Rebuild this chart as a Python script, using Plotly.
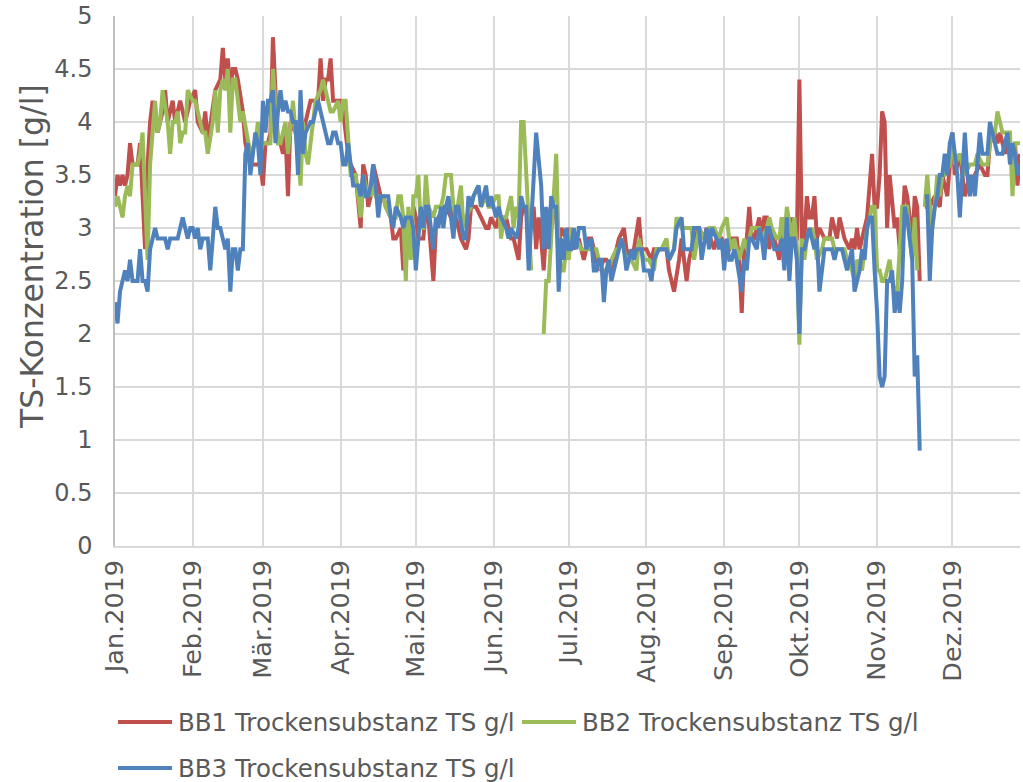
import pandas as pd
import plotly.graph_objects as go

# ---- data: (day of year offset from 2019-01-01, value in g/l); None = gap ----
bb1 = [(0,3.3),(1,3.5),(2,3.4),(3,3.5),(4,3.4),(5,3.5),(6,3.8),(7,3.6),(8,3.6),(9,3.6),(10,3.8),(11,3.2),(12,2.8),(13,3.6),(14,4.0),(15,4.2),(17,3.9),(19,4.1),(20,4.3),(21,4.0),(23,4.2),(24,4.0),(25,4.1),(26,4.2),(28,4.0),(30,4.2),(32,4.3),(33,4.0),(35,3.9),(36,4.1),(37,3.8),(39,4.1),(40,4.3),(42,4.4),(43,4.7),(44,4.4),(45,4.6),(46,4.3),(47,4.5),(48,4.5),(49,4.4),(51,4.1),(52,3.8),(54,3.6),(56,3.6),(57,3.6),(58,3.6),(59,3.4),
       (60,3.8),(61,3.8),(62,3.9),(63,4.8),(64,4.2),(65,3.8),(66,3.8),(67,3.7),(68,3.9),(69,3.3),(70,4.0),(72,3.9),(73,3.9),(74,3.8),(76,4.0),(77,4.1),(78,4.2),(80,4.2),(81,4.2),(82,4.6),(83,4.2),(84,4.4),(85,4.4),(86,4.6),(87,4.2),(88,4.2),(90,4.2),(91,4.1),(92,3.9),(93,3.7),(94,3.6),(96,3.5),(98,3.0),(99,3.6),(100,3.5),(101,3.2),(102,3.3),(103,3.6),(104,3.5),(106,3.3),(107,3.3),(108,3.2),(110,3.1),(111,2.9),(112,2.9),(114,3.0),(115,2.6),(116,3.1),(118,3.0),(119,3.2),
       (120,3.1),(121,2.9),(123,2.9),(124,3.2),(125,3.1),(127,2.5),(128,3.0),(129,3.1),(131,3.2),(132,3.2),(134,3.1),(135,3.2),(136,3.1),(138,2.9),(140,2.8),(141,2.9),(142,3.2),(144,3.2),(146,3.1),(148,3.0),(149,3.0),(150,3.1),(152,3.0),(153,3.1),(154,3.1),(156,3.1),(158,2.9),(159,2.9),(160,2.8),(161,2.7),(162,3.1),(163,3.2),(164,3.2),(165,2.9),(166,3.1),(167,3.2),(168,2.8),(169,3.1),(170,2.9),(171,2.6),(172,3.0),(173,3.1),(174,3.2),(176,3.1),(177,2.8),(178,3.0),(180,2.9),
       (181,3.0),(183,2.8),(185,2.9),(187,2.7),(189,2.9),(190,2.9),(192,2.7),(193,2.6),(195,2.7),(196,2.7),(198,2.6),(200,2.8),(201,2.9),(203,3.0),(204,2.8),(206,2.7),(207,2.8),(209,3.1),(210,2.8),(211,2.8),(212,2.8),(214,2.7),(215,2.8),(216,2.8),(218,2.8),(220,2.8),(221,2.6),(222,2.5),(223,2.4),(225,2.7),(226,2.9),(227,2.7),(228,2.5),(229,2.7),(231,2.9),(233,3.0),(235,2.9),(236,3.0),(239,2.8),(240,2.9),(242,2.9),
       (244,2.8),(245,2.8),(246,2.9),(248,2.9),(249,2.7),(250,2.2),(251,2.8),(252,2.9),(253,3.2),(254,2.9),(255,2.9),(256,3.0),(257,3.1),(258,2.9),(259,3.1),(260,3.1),(261,2.8),(262,3.0),(264,2.8),(265,2.7),(266,3.1),(267,2.8),(269,2.9),(270,3.1),(271,2.9),(272,2.9),(273,4.4),(274,2.9),(275,2.9),(276,3.3),(277,3.1),(278,3.1),(279,3.3),(280,2.9),(281,3.0),(283,2.9),(284,2.9),(285,2.9),(286,3.1),(288,2.9),(289,3.1),(290,3.0),(291,2.9),(293,2.8),(294,2.9),(295,2.8),(296,3.0),(297,2.8),(298,2.9),(300,3.1),(301,3.4),(302,3.7),(303,3.2),
       (304,3.2),(305,3.5),(306,4.1),(307,4.0),(308,3.0),(309,3.5),(310,3.2),(311,3.0),(312,3.1),(313,2.8),(314,3.0),(315,3.4),(316,3.3),(317,3.1),(318,2.8),(319,3.3),(320,3.2),(321,2.5),(322,None),(323,3.2),(325,3.2),(327,3.3),(329,3.2),(330,3.5),(332,3.3),(333,3.6),(334,3.9),(335,3.5),(337,3.7),(338,3.5),(339,3.3),(341,3.5),(342,3.4),(343,3.5),(345,3.6),(347,3.5),(348,3.5),(349,3.8),(351,3.9),(352,3.8),(353,3.9),(355,3.7),(356,3.8),(357,3.7),(358,3.6),(359,3.8),(360,3.4),(361,3.7)]

bb2 = [(0,3.2),(1,3.3),(2,3.2),(3,3.1),(4,3.3),(5,3.4),(6,3.3),(7,3.6),(9,3.6),(10,3.7),(11,3.9),(12,3.2),(13,2.7),(14,3.6),(15,3.9),(16,4.2),(17,3.9),(18,4.0),(19,4.3),(21,4.0),(22,3.7),(23,4.0),(24,4.0),(25,4.1),(26,3.8),(27,3.9),(28,3.9),(29,4.3),(31,4.2),(32,4.2),(33,4.1),(35,3.9),(36,3.9),(37,3.7),(39,4.0),(40,4.3),(41,3.9),(42,4.3),(43,4.4),(44,4.3),(45,4.5),(46,3.9),(47,4.4),(48,4.4),(49,4.2),(50,4.0),(51,4.1),(53,3.8),(54,3.7),(56,3.8),(57,4.0),(58,3.7),(59,3.8),
       (60,3.8),(61,3.8),(62,3.8),(63,4.5),(64,4.2),(65,3.8),(66,3.8),(68,4.0),(69,3.7),(70,4.0),(71,4.2),(72,3.9),(73,3.7),(74,3.4),(75,4.0),(76,3.7),(77,3.6),(78,3.8),(79,4.0),(80,4.2),(82,4.3),(83,4.4),(84,4.3),(86,4.1),(87,4.1),(89,4.2),(90,4.0),(91,4.2),(92,4.2),(93,3.9),(94,3.5),(96,3.5),(97,3.3),(98,3.1),(99,3.5),(100,3.4),(102,3.3),(103,3.4),(104,3.3),(107,3.3),(108,3.2),(110,3.1),(112,3.1),(113,3.3),(114,3.3),(115,3.1),(116,2.5),(117,3.2),(118,2.7),(119,3.3),
       (120,3.3),(121,3.5),(122,3.0),(123,3.0),(124,3.5),(125,3.2),(127,3.1),(128,3.2),(130,3.2),(131,3.3),(132,3.5),(134,3.5),(135,3.2),(136,3.1),(138,3.4),(139,3.0),(140,3.1),(142,3.2),(143,3.3),(145,3.4),(146,3.2),(148,3.3),(149,3.2),(150,3.2),(152,3.3),(153,3.3),(154,2.9),(155,3.1),(156,3.1),(158,3.3),(159,3.0),(160,3.2),(161,3.1),(162,4.0),(163,4.0),(165,3.1),(166,2.6),(168,None),(171,2.0),(172,2.5),(173,2.5),(174,2.9),(175,3.3),(176,3.7),(177,2.8),(178,2.6),(179,2.6),(180,2.8),
       (181,2.7),(182,3.0),(184,2.9),(186,2.8),(188,2.8),(190,2.8),(192,2.8),(194,2.6),(196,2.6),(197,2.6),(198,2.7),(200,2.8),(201,2.8),(202,2.9),(204,2.7),(205,2.7),(206,2.7),(208,2.6),(209,2.9),(211,2.7),(213,2.7),(215,2.6),(216,2.8),(218,2.8),(220,2.9),(221,2.7),(223,2.8),(224,3.1),(226,3.0),(228,3.0),(230,3.0),(231,2.7),(233,3.0),(235,2.9),(237,3.0),(239,3.0),(241,2.9),(242,3.0),
       (244,3.1),(245,2.9),(246,2.8),(247,2.9),(249,2.7),(250,2.8),(251,2.9),(252,2.8),(253,2.9),(254,3.0),(256,3.0),(257,3.0),(258,2.9),(260,3.0),(261,3.1),(262,3.0),(264,2.9),(265,2.9),(266,3.1),(267,2.9),(268,3.2),(270,2.9),(271,3.1),(272,2.8),(273,1.9),(274,2.9),(275,2.7),(276,2.9),(278,3.0),(279,2.9),(280,2.7),(282,2.8),(283,2.9),(284,2.9),(286,2.9),(287,2.8),(288,2.8),(290,2.8),(291,2.8),(292,2.7),(294,2.6),(295,2.5),(296,2.7),(298,2.6),(299,2.8),(300,3.0),(302,3.2),(303,3.2),
       (304,2.6),(305,2.6),(306,2.5),(307,2.5),(308,2.6),(309,2.7),(310,2.5),(311,2.4),(312,2.4),(313,2.9),(314,3.2),(315,3.2),(316,3.2),(317,2.9),(318,2.7),(319,3.1),(320,2.6),(322,None),(323,3.2),(324,3.5),(325,3.2),(326,3.0),(327,3.2),(328,3.5),(329,3.3),(330,3.5),(331,3.5),(333,3.6),(334,3.9),(335,3.6),(337,3.7),(338,3.6),(339,3.5),(341,3.6),(342,3.6),(343,3.6),(344,3.7),(346,3.6),(348,3.6),(349,3.8),(351,3.9),(352,4.1),(354,3.9),(355,3.9),(357,3.9),(358,3.3),(359,3.8),(360,3.8),(361,3.8)]

bb3 = [(0,2.3),(1,2.1),(2,2.4),(3,2.5),(4,2.6),(5,2.5),(6,2.7),(7,2.5),(8,2.5),(9,2.5),(10,2.8),(11,2.5),(12,2.5),(13,2.4),(14,2.8),(15,2.9),(16,3.0),(17,2.9),(18,2.9),(19,2.9),(20,2.9),(21,2.8),(22,2.9),(23,2.9),(24,2.9),(25,2.9),(26,3.0),(27,3.1),(28,3.0),(29,2.9),(30,3.0),(31,3.0),(32,2.9),(33,3.0),(34,2.8),(35,2.9),(36,2.9),(37,2.9),(38,2.6),(40,3.2),(41,3.0),(42,3.0),(43,2.9),(44,2.8),(45,2.9),(46,2.4),(47,2.8),(48,2.8),(49,2.6),(50,2.8),(51,2.8),(52,3.7),(53,3.8),(54,3.5),(55,3.7),(56,3.9),(57,3.8),(58,3.5),(59,4.2),
       (60,3.9),(61,4.2),(62,4.2),(63,4.3),(64,3.8),(65,4.1),(66,4.3),(67,4.1),(68,4.2),(69,4.1),(70,4.1),(71,4.0),(72,4.0),(73,3.5),(74,4.3),(75,3.7),(76,3.9),(78,4.0),(79,4.0),(80,4.1),(81,4.2),(82,4.1),(84,3.9),(85,3.8),(86,3.8),(87,3.9),(88,3.9),(89,3.8),(90,3.8),(91,3.6),(92,3.6),(93,3.8),(94,3.6),(95,3.4),(96,3.4),(97,3.4),(98,3.3),(99,3.5),(100,3.3),(101,3.3),(102,3.4),(103,3.6),(104,3.4),(105,3.1),(106,3.3),(108,3.3),(109,3.3),(110,3.1),(111,3.0),(112,3.2),(114,3.1),(115,3.0),(116,3.1),(118,3.1),(119,3.0),
       (120,2.6),(122,3.2),(123,3.0),(124,3.2),(125,3.2),(127,2.8),(128,3.1),(129,3.0),(130,3.2),(131,3.0),(132,3.2),(133,3.3),(135,2.9),(136,3.2),(137,3.2),(139,2.9),(140,2.9),(141,3.3),(142,3.2),(143,3.3),(145,3.4),(146,3.2),(148,3.4),(149,3.2),(150,3.3),(152,3.1),(153,3.2),(154,3.1),(156,3.0),(157,2.9),(158,3.0),(160,2.9),(161,3.0),(162,3.3),(163,3.2),(164,3.2),(165,2.6),(166,3.0),(167,3.4),(168,3.9),(170,3.4),(171,2.8),(172,3.2),(173,2.8),(174,3.3),(175,3.2),(176,3.2),(177,2.4),(178,2.9),(179,2.7),(180,3.0),
       (181,2.8),(182,2.8),(183,3.0),(184,2.8),(185,3.0),(186,3.0),(187,3.0),(188,2.8),(190,2.9),(191,2.6),(192,2.6),(193,2.7),(194,2.7),(195,2.3),(196,2.6),(197,2.7),(198,2.5),(199,2.6),(200,2.7),(202,2.9),(203,2.8),(204,2.6),(206,2.8),(207,2.7),(208,2.8),(210,2.8),(211,2.6),(213,2.6),(214,2.5),(215,2.7),(217,2.8),(219,2.8),(220,2.8),(221,2.7),(223,2.8),(224,3.0),(226,3.1),(227,2.8),(229,2.8),(230,2.8),(231,3.0),(233,3.0),(234,2.7),(236,3.0),(237,2.8),(238,3.0),(240,2.9),(241,2.8),(242,2.9),
       (243,2.6),(244,2.9),(245,2.7),(246,2.7),(247,2.8),(248,2.7),(250,2.4),(251,2.7),(252,2.6),(253,2.9),(254,2.9),(256,2.8),(257,3.0),(258,2.9),(259,2.7),(260,3.0),(261,3.0),(262,2.9),(263,2.8),(265,2.8),(266,2.9),(267,2.6),(268,3.1),(269,2.5),(270,2.9),(271,2.9),(272,2.7),(273,2.0),(274,2.8),(275,2.8),(277,3.0),(278,2.9),(279,2.8),(280,2.9),(281,2.4),(282,2.6),(283,2.8),(284,2.8),(286,2.8),(287,2.7),(288,2.8),(290,2.8),(291,2.7),(292,2.6),(294,2.8),(295,2.4),(297,2.6),(298,2.8),(299,2.7),(300,3.0),(301,3.1),(302,3.1),(303,2.6),
       (304,2.2),(305,1.6),(306,1.5),(307,1.6),(308,2.5),(309,2.5),(310,2.6),(311,2.2),(312,2.4),(313,2.2),(314,2.5),(315,3.2),(316,3.1),(317,2.9),(318,2.7),(319,1.6),(320,1.8),(321,0.9),(322,None),(323,3.3),(324,3.3),(325,2.5),(326,3.0),(327,3.2),(328,3.3),(329,3.5),(330,3.5),(331,3.7),(332,3.5),(333,3.8),(334,3.9),(335,3.7),(336,3.5),(337,3.1),(339,3.9),(340,3.5),(341,3.3),(342,3.5),(343,3.3),(344,3.6),(345,3.9),(346,3.7),(348,3.7),(349,4.0),(350,3.9),(351,3.8),(352,3.7),(354,3.7),(355,3.8),(356,3.9),(357,3.6),(358,3.8),(359,3.7),(360,3.5),(361,3.6)]

series_names = ["BB1 Trockensubstanz TS g/l", "BB2 Trockensubstanz TS g/l", "BB3 Trockensubstanz TS g/l"]
series_colors = ["#C0504D", "#9BBB59", "#4F81BD"]
month_labels = ["Jan.2019", "Feb.2019", "Mär.2019", "Apr.2019", "Mai.2019", "Jun.2019",
                "Jul.2019", "Aug.2019", "Sep.2019", "Okt.2019", "Nov.2019", "Dez.2019"]
y_ticks = [0, 0.5, 1, 1.5, 2, 2.5, 3, 3.5, 4, 4.5, 5]
y_title = "TS-Konzentration [g/l]"

start = pd.Timestamp("2019-01-01")
month_starts = pd.date_range("2019-01-01", periods=12, freq="MS")

FONT = "Verdana, DejaVu Sans, sans-serif"
TXT = "#595959"
W, H = 1023, 782
ML, MR, MT, MB = 115, 3, 16, 236
PW, PH = W - ML - MR, H - MT - MB


def px_x(p):  # pixel x -> paper x
    return (p - ML) / PW


def px_y(p):  # pixel y -> paper y
    return (H - MB - p) / PH


fig = go.Figure()
for data, name, color in zip([bb1, bb2, bb3], series_names, series_colors):
    x = [start + pd.Timedelta(days=d) for d, _ in data]
    y = [v for _, v in data]
    fig.add_trace(go.Scatter(x=x, y=y, mode="lines", name=name, showlegend=False,
                             line=dict(color=color, width=4), connectgaps=False))

# legend drawn in the Excel style (long sample line, two rows)
legend_pos = [(118, 722), (522, 722), (118, 768)]
for (lx, ly), name, color in zip(legend_pos, series_names, series_colors):
    fig.add_shape(type="line", xref="paper", yref="paper",
                  x0=px_x(lx), x1=px_x(lx + 54), y0=px_y(ly), y1=px_y(ly),
                  line=dict(color=color, width=4))
    fig.add_annotation(xref="paper", yref="paper", x=px_x(lx + 58), y=px_y(ly),
                       xanchor="left", yanchor="middle", showarrow=False, text=name,
                       font=dict(family=FONT, size=24.5, color=TXT))

# y-axis title (Excel places it slightly above the plot-area centre)
fig.add_annotation(xref="paper", yref="paper", x=px_x(32), y=px_y(257),
                   xanchor="center", yanchor="middle", showarrow=False, textangle=-90,
                   text=y_title, font=dict(family=FONT, size=31.5, color=TXT))

fig.update_layout(
    width=W, height=H,
    margin=dict(l=ML, r=MR, t=MT, b=MB),
    paper_bgcolor="white", plot_bgcolor="white",
    font=dict(family=FONT, size=24, color=TXT),
    showlegend=False,
)
fig.update_xaxes(
    type="date", automargin=False,
    range=[start, start + pd.Timedelta(days=361)],
    tickvals=list(month_starts), ticktext=month_labels,
    tickangle=-90, tickfont=dict(family=FONT, size=25.5, color=TXT),
    showgrid=True, gridcolor="#D9D9D9", gridwidth=1.5,
    showline=True, linecolor="#D9D9D9", linewidth=1.5,
    ticks="", ticklabelstandoff=2, zeroline=False,
)
fig.update_yaxes(
    automargin=False,
    range=[0, 5], tickvals=y_ticks,
    tickfont=dict(family=FONT, size=24, color=TXT),
    showgrid=True, gridcolor="#D9D9D9", gridwidth=1.5,
    showline=True, linecolor="#BFBFBF", linewidth=1.5,
    ticks="", ticklabelstandoff=16, zeroline=False,
)

fig.write_html("out.html", config={"displayModeBar": False},
               post_script="document.body.style.margin='0px';document.body.style.overflow='hidden';")
